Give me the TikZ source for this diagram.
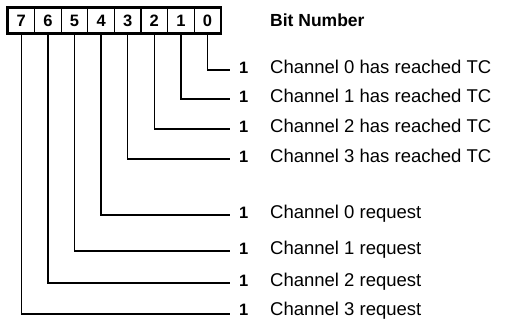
\documentclass[tikz,border=0pt]{standalone}
\usepackage{fontspec}
\setmainfont{Liberation Sans}
\begin{document}
\begin{tikzpicture}[x=1pt,y=-1pt,
  cell/.style={draw,line width=1.3pt,minimum width=26.6pt,minimum height=25pt,inner sep=0pt,font=\fontsize{16.5}{16.5}\selectfont\bfseries},
  one/.style={anchor=base west,inner sep=0pt,font=\fontsize{16.5}{16.5}\selectfont\bfseries},
  desc/.style={anchor=base west,inner sep=0pt,font=\fontsize{18.5}{18.5}\selectfont},
  wire/.style={line width=1.4pt}]
\useasboundingbox (0,0) rectangle (507,320);
\foreach \b [count=\k from 0] in {7,6,5,4,3,2,1,0}{
  \node[cell] (b\b) at ({8+26.6*(\k+0.5)},20.5) {\b};
}
\draw[line width=1.8pt] (b7.north west) rectangle (b0.south east);
\node[anchor=base west,inner sep=0pt,font=\fontsize{17.5}{17.5}\selectfont\bfseries] (title) at (270,26.5) {Bit Number};
\foreach \b/\y/\d/\t in {0/70/4/Channel 0 has reached TC,1/99/4/Channel 1 has reached TC,2/129/4/Channel 2 has reached TC,3/159/4/Channel 3 has reached TC,4/215/4/Channel 0 request,5/251/4/Channel 1 request,6/283/4/Channel 2 request,7/314/1.5/Channel 3 request}{
  \node[one] (o\b) at (239,\y+\d) {1};
  \coordinate (e\b) at (230,\y);
  \node[desc] (t\b) at (270,\y+\d) {\t};
  \draw[wire] (b\b.south) |- (e\b);
}
\end{tikzpicture}
\end{document}
